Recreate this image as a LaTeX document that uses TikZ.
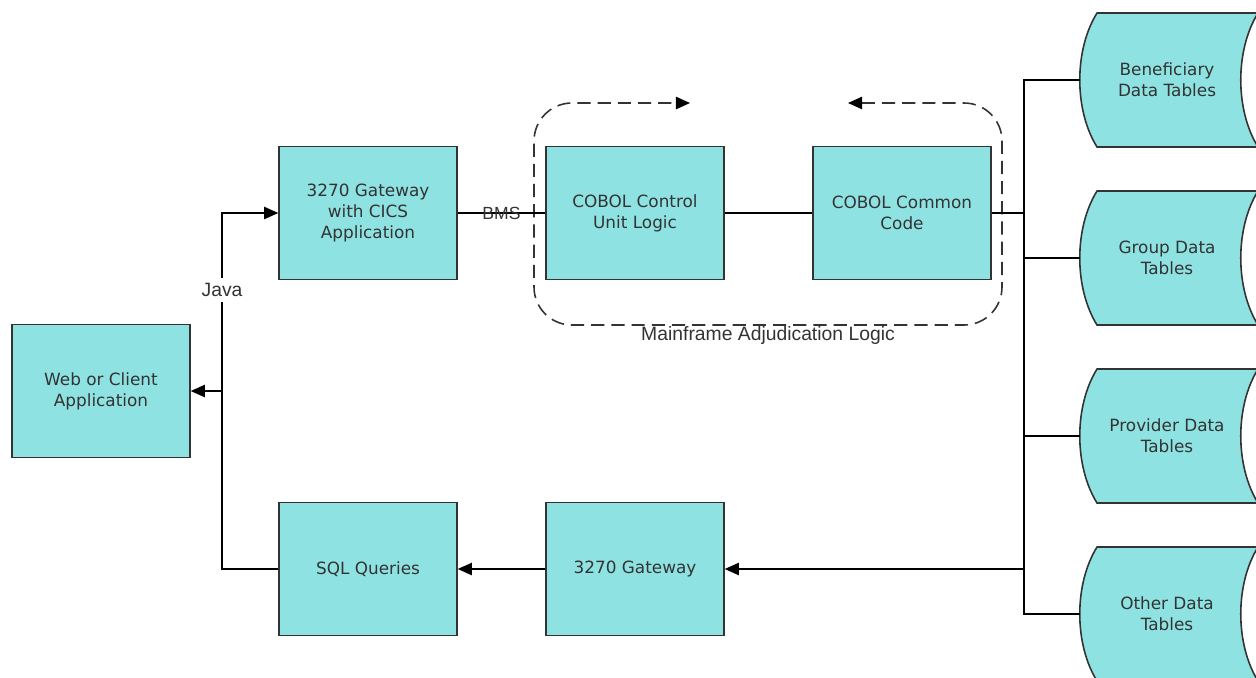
\documentclass[tikz,border=0pt]{standalone}
\usepackage{fontspec}
\setmainfont{DejaVu Sans}
\newfontfamily\labelfont{Liberation Sans}
\usetikzlibrary{arrows.meta}
\definecolor{boxfill}{RGB}{143,226,226}
\definecolor{boxline}{RGB}{51,51,51}
\definecolor{textgrey}{RGB}{51,51,51}
\begin{document}
\begin{tikzpicture}
[x=0.02cm, y=-0.02cm,
  nodedecorate/.style={shape=rectangle,draw=boxline,fill=boxfill,line width=0.9pt,
    minimum width=3.56cm,minimum height=2.66cm,inner sep=0pt,align=center,
    text=textgrey,font=\fontsize{9.6}{11.9}\selectfont},
  tabledecorate/.style={draw=boxline,fill=boxfill,line width=0.9pt},
  tabletext/.style={align=center,text=textgrey,font=\fontsize{9.6}{11.9}\selectfont},
  linedecorate/.style={-,line width=0.8pt},
  arrowdecorate/.style={-{Triangle[length=8pt,width=7pt]},line width=0.8pt},
  labeldecorate/.style={text=textgrey,inner sep=1pt,
    font=\labelfont\fontsize{11}{13}\selectfont},
  loopdecorate/.style={{Triangle[length=8pt,width=7pt,color=black]}-{Triangle[length=8pt,width=7pt,color=black]},
    draw=boxline,line width=0.9pt,dash pattern=on 7.5pt off 4pt,rounded corners=0.76cm}]
\useasboundingbox (0,0) rectangle (1256,677);
%% boxes
\foreach \nodename/\x/\y/\txt in {web/101/391/{Web or Client\\Application},
  gwcics/368/213/{3270 Gateway\\with CICS\\Application},
  ctrl/635/213/{COBOL Control\\Unit Logic}, common/902/213/{COBOL Common\\Code},
  sql/368/569/{SQL Queries}, gw/635/569/{3270 Gateway}}
{
  \node (\nodename) at (\x,\y) [nodedecorate] {\txt};
}
%% data tables
\foreach \nodename/\y/\txt in {bene/80/{Beneficiary\\Data Tables},
  group/258/{Group Data\\Tables}, prov/436/{Provider Data\\Tables},
  other/614/{Other Data\\Tables}}
{
  \path[tabledecorate] (1097,\y-67) -- (1258,\y-67)
    .. controls (1235,\y-30) and (1235,\y+30) .. (1258,\y+67) -- (1097,\y+67)
    .. controls (1074,\y+30) and (1074,\y-30) .. cycle;
  \node (\nodename) at (1167,\y) [tabletext] {\txt};
  \coordinate (\nodename-w) at (1080,\y);
}
%% mainframe loop
\draw[loopdecorate] (848,103) -- (1002,103) -- (1002,325) -- (534,325)
  -- (534,103) -- (690,103);
\node (mainframe) at (768,335) [labeldecorate] {Mainframe Adjudication Logic};
%% edges or lines
\path (gwcics) edge[linedecorate] node[labeldecorate,font=\labelfont\fontsize{10}{12}\selectfont] {BMS} (ctrl)
  (ctrl) edge[linedecorate] (common);
\coordinate (bus) at (1024,213);
\draw[linedecorate] (common) -- (bus);
\draw[linedecorate] (bene-w) -- (bene-w -| bus) -- (other-w -| bus) -- (other-w);
\path
\foreach \nodename in {group, prov}
{
  (\nodename-w) edge[linedecorate] (\nodename-w -| bus)
};
\draw[arrowdecorate] (bus |- gw) -- (gw);
\draw[arrowdecorate] (gw) -- (sql);
\coordinate (branch) at (222,391);
\draw[linedecorate] (sql) -| (branch);
\draw[arrowdecorate] (branch) |- (gwcics);
\draw[arrowdecorate] (branch) -- (web);
\node (java) at (222,290) [labeldecorate,fill=white,inner ysep=3pt] {Java};
\end{tikzpicture}
\end{document}
